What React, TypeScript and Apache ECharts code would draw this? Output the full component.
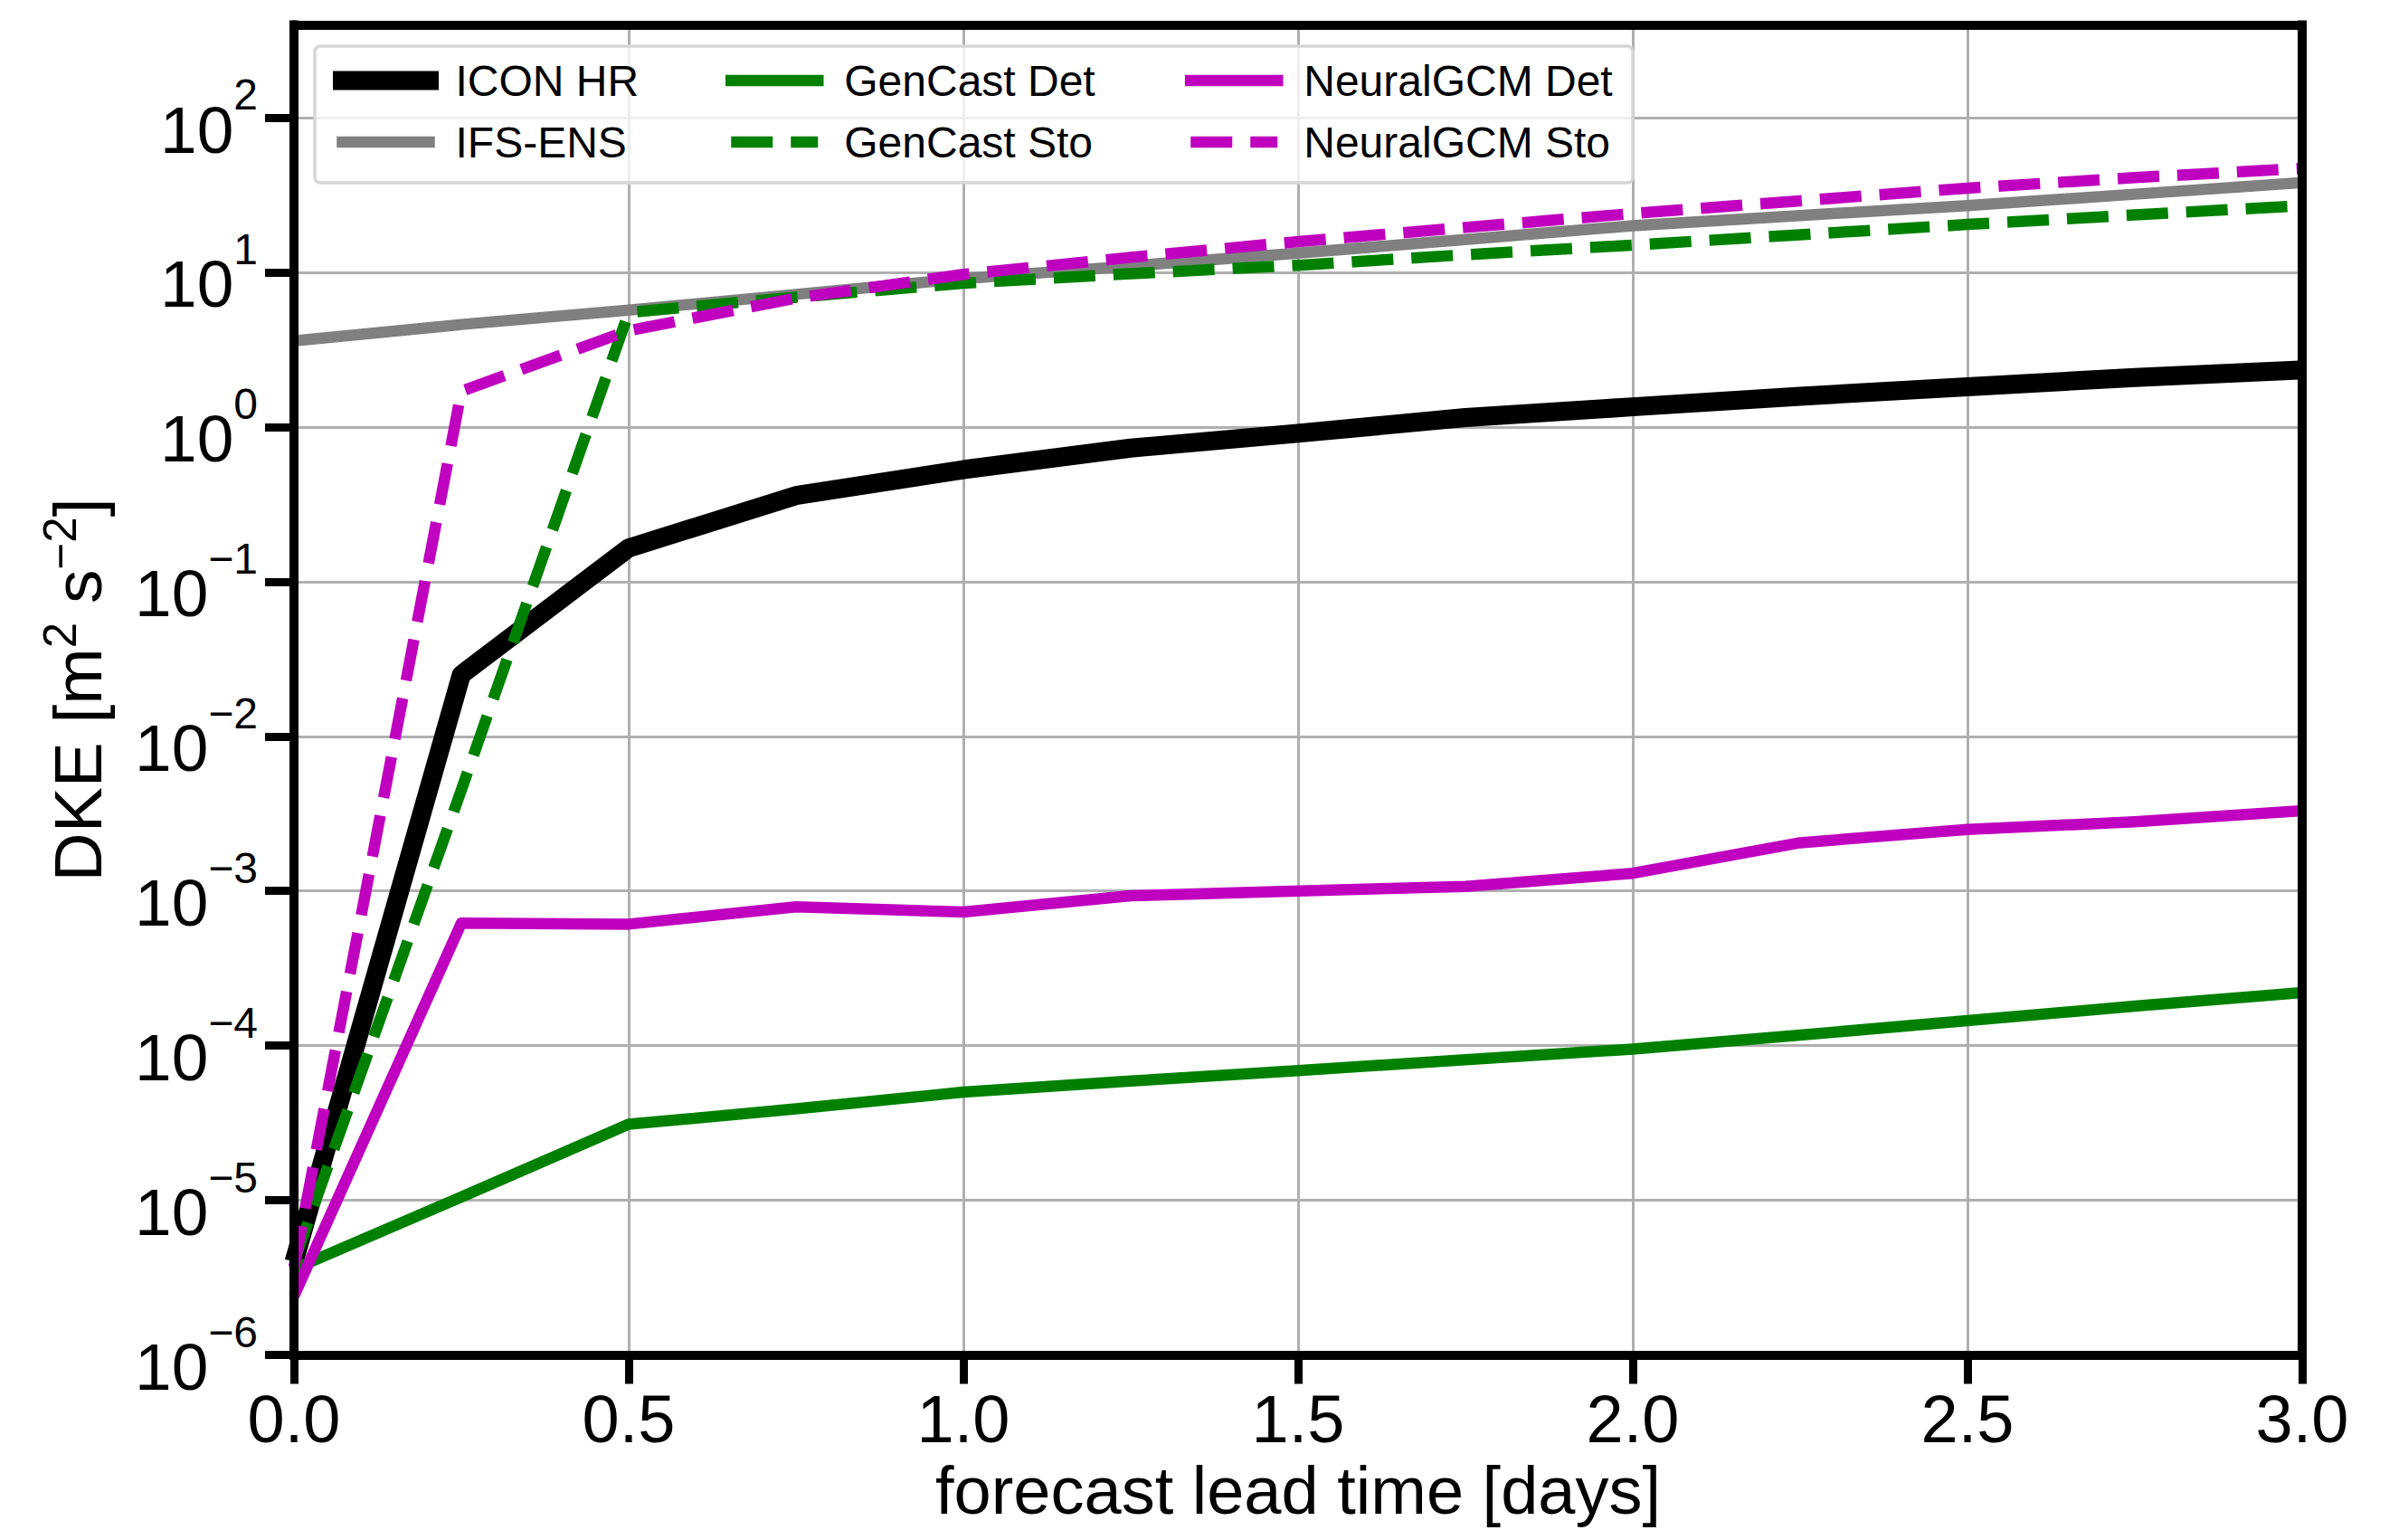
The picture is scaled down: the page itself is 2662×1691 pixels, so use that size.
import React, { useEffect, useRef } from 'react';
import * as echarts from 'echarts';

// ---------- data ----------
const leadTimeDays = [0, 0.25, 0.5, 0.75, 1.0, 1.25, 1.5, 1.75, 2.0, 2.25, 2.5, 2.75, 3.0];

const iconHR = [4.0e-6, 0.025, 0.165, 0.36, 0.53, 0.73, 0.91, 1.15, 1.35, 1.58, 1.82, 2.09, 2.34];
const ifsEns = [3.6, 4.6, 5.7, 7.2, 9.1, 11.0, 13.3, 16.3, 20.0, 23.3, 27.0, 32.0, 38.0];
const genCastDet = [3.6e-6, 1.05e-5, 3.1e-5, 3.9e-5, 5.0e-5, 5.9e-5, 6.9e-5, 8.1e-5, 9.5e-5, 1.17e-4, 1.45e-4, 1.8e-4, 2.2e-4];
const genCastSto = [4.0e-6, 0.0045, 5.5, 6.9, 8.5, 9.8, 11.1, 13.0, 15.0, 17.5, 20.4, 23.5, 27.0];
const neuralGcmDet = [2.4e-6, 6.2e-4, 6.1e-4, 7.9e-4, 7.3e-4, 9.3e-4, 1.0e-3, 1.07e-3, 1.3e-3, 2.05e-3, 2.5e-3, 2.8e-3, 3.3e-3];
const neuralGcmSto = [3.7e-6, 1.7, 4.2, 6.8, 9.7, 12.5, 15.8, 19.5, 24.0, 29.0, 35.0, 41.0, 47.0];

const yTickValues = [1e-6, 1e-5, 1e-4, 1e-3, 1e-2, 1e-1, 1e0, 1e1, 1e2];
const yTickExponents = ['\u22126', '\u22125', '\u22124', '\u22123', '\u22122', '\u22121', '0', '1', '2'];

const xAxisTitle = 'forecast lead time [days]';

const legendColumns = [
  ['ICON HR', 'IFS-ENS'],
  ['GenCast Det', 'GenCast Sto'],
  ['NeuralGCM Det', 'NeuralGCM Sto'],
];

const FONT = "'Liberation Sans', Arial, Helvetica, sans-serif";
const DASH = [46, 20];

const seriesSpecs = [
  { name: 'ICON HR', values: iconHR, color: '#000000', width: 21, dashed: false },
  { name: 'IFS-ENS', values: ifsEns, color: '#808080', width: 12.5, dashed: false },
  { name: 'GenCast Det', values: genCastDet, color: '#008000', width: 12.5, dashed: false },
  { name: 'GenCast Sto', values: genCastSto, color: '#008000', width: 12.5, dashed: true },
  { name: 'NeuralGCM Det', values: neuralGcmDet, color: '#bf00bf', width: 12.5, dashed: false },
  { name: 'NeuralGCM Sto', values: neuralGcmSto, color: '#bf00bf', width: 12.5, dashed: true },
];

export default function App() {
  const ref = useRef<HTMLDivElement>(null);

  useEffect(() => {
    if (!ref.current) return;
    const chart = echarts.init(ref.current, null, { renderer: 'svg' });

    const spineAxisBase = {
      axisLine: { show: true, onZero: false, lineStyle: { color: '#000', width: 10, cap: 'square' } },
      axisTick: { show: false },
      axisLabel: { show: false },
      splitLine: { show: false },
      z: 5,
      silent: true,
    };

    const option: any = {
      animation: false,
      backgroundColor: '#ffffff',
      grid: {
        left: 325,
        right: 117,
        top: 27.5,
        bottom: 193.5,
        containLabel: false,
        outerBoundsMode: 'none',
      },
      xAxis: [
        {
          type: 'value',
          min: 0,
          max: 3,
          interval: 0.5,
          position: 'bottom',
          z: 0,
          axisLine: { show: true, onZero: false, lineStyle: { color: '#000', width: 10 } },
          axisTick: { show: true, length: 32, lineStyle: { color: '#000', width: 9 } },
          axisLabel: {
            show: true,
            margin: 34,
            fontSize: 74,
            fontFamily: FONT,
            color: '#000',
            formatter: (v: number) => v.toFixed(1),
          },
          splitLine: { show: true, lineStyle: { color: '#b0b0b0', width: 3 } },
          name: xAxisTitle,
          nameLocation: 'middle',
          nameGap: 111,
          nameTextStyle: { fontSize: 74, fontFamily: FONT, color: '#000' },
        },
        { type: 'value', min: 0, max: 3, position: 'bottom', ...spineAxisBase },
        { type: 'value', min: 0, max: 3, position: 'top', ...spineAxisBase },
      ],
      yAxis: [
        {
          type: 'log',
          logBase: 10,
          min: 1e-6,
          max: 398,
          position: 'left',
          z: 0,
          axisLine: { show: true, onZero: false, lineStyle: { color: '#000', width: 10 } },
          axisTick: { show: true, length: 32, customValues: yTickValues, lineStyle: { color: '#000', width: 9 } },
          minorTick: { show: false },
          axisLabel: {
            show: true,
            margin: 40,
            customValues: yTickValues,
            fontFamily: FONT,
            color: '#000',
            formatter: (v: number) => {
              const idx = yTickValues.findIndex((t) => Math.abs(Math.log10(t) - Math.log10(v)) < 1e-6);
              if (idx < 0) return '';
              return `{b|10}{s|${yTickExponents[idx]}}`;
            },
            rich: {
              b: { fontSize: 73, fontFamily: FONT, color: '#000', verticalAlign: 'bottom', lineHeight: 73 },
              s: { fontSize: 48, fontFamily: FONT, color: '#000', verticalAlign: 'top', lineHeight: 99 },
            },
          },
          splitLine: { show: true, lineStyle: { color: '#b0b0b0', width: 3 } },
          name: '{a|DKE [m}{s|2}{a| s}{s|\u22122}{a|]}',
          nameLocation: 'middle',
          nameRotate: 90,
          nameGap: 202,
          nameTextStyle: {
            fontFamily: FONT,
            color: '#000',
            rich: {
              a: { fontSize: 75, fontFamily: FONT, color: '#000', verticalAlign: 'bottom' },
              s: { fontSize: 51, fontFamily: FONT, color: '#000', verticalAlign: 'top', lineHeight: 82 },
            },
          },
        },
        { type: 'value', min: 0, max: 1, position: 'left', ...spineAxisBase },
        { type: 'value', min: 0, max: 1, position: 'right', ...spineAxisBase },
      ],
      legend: legendColumns.map((names, i) => ({
        type: 'plain',
        orient: 'vertical',
        left: [368, 802, 1310][i],
        top: 65,
        padding: 0,
        itemWidth: 96,
        itemHeight: 48,
        itemGap: 20,
        selectedMode: false,
        data: names.map((n) => {
          const spec = seriesSpecs.find((s) => s.name === n)!;
          return { name: n, lineStyle: { cap: spec.dashed ? 'butt' : 'square' } };
        }),
        itemStyle: { opacity: 0 },
        lineStyle: { width: 'inherit', type: 'inherit' },
        textStyle: {
          fontFamily: FONT,
          fontSize: 48,
          color: '#000',
          lineHeight: 48,
          padding: [0, 0, 0, 24],
        },
        z: 6,
      })),
      graphic: [
        {
          type: 'rect',
          silent: true,
          z: 4,
          shape: { x: 348, y: 51, width: 1457, height: 151, r: 6 },
          style: { fill: 'rgba(255,255,255,0.8)', stroke: '#d6d6d6', lineWidth: 3.5 },
        },
      ],
      series: seriesSpecs.map((s) => ({
        type: 'line',
        name: s.name,
        xAxisIndex: 0,
        yAxisIndex: 0,
        data: leadTimeDays.map((d, k) => [d, s.values[k]]),
        symbol: 'none',
        showSymbol: false,
        silent: true,
        clip: true,
        z: 2,
        lineStyle: {
          color: s.color,
          width: s.width,
          type: s.dashed ? DASH : 'solid',
          cap: 'butt',
          join: 'round',
        },
        itemStyle: { color: s.color },
      })),
    };

    chart.setOption(option);
    return () => chart.dispose();
  }, []);

  return (
    <div
      ref={ref}
      style={{ position: 'fixed', left: 0, top: 0, width: 2662, height: 1691, background: '#fff' }}
    />
  );
}
